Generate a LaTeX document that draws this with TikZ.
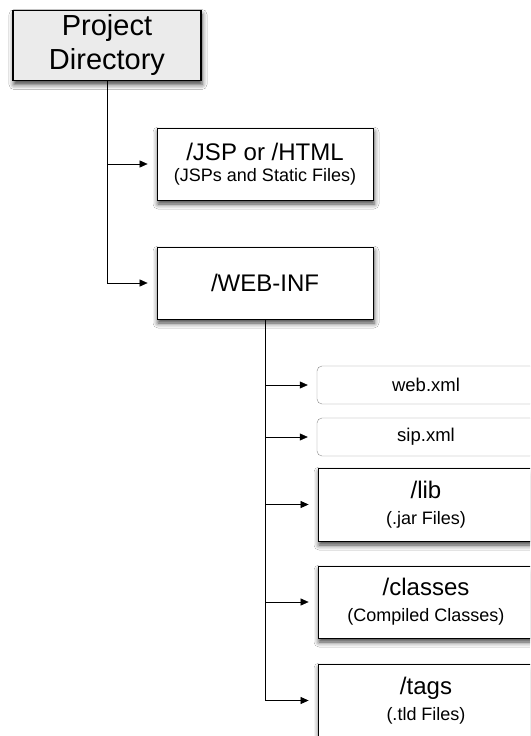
\documentclass[tikz,border=0pt]{standalone}
\usepackage{fontspec}
\setmainfont{Liberation Sans}
\usetikzlibrary{arrows.meta,shadows.blur}
\definecolor{rootfill}{rgb}{0.92,0.92,0.92}
\definecolor{filerim}{rgb}{0.55,0.55,0.55}
\newcommand{\dirnote}[1]{{\fontsize{18}{20}\selectfont #1}}

\begin{document}
\begin{tikzpicture}[x=1pt,y=-1pt,
    folder/.style={draw,thick,fill=white,inner sep=0pt,align=center,
      minimum width=216pt,minimum height=72pt,font=\fontsize{24}{26}\selectfont,
      blur shadow={shadow xshift=1pt,shadow yshift=-4pt,shadow blur radius=5pt,shadow opacity=75}},
    xmlfile/.style={draw=filerim,fill=white,rounded corners=5pt,inner sep=0pt,
      minimum width=218pt,minimum height=38pt,font=\fontsize{18.5}{21}\selectfont},
    branch/.style={-{Triangle[length=8pt,width=7pt]},semithick,shorten >=9pt}]
  \clip (0,0) rectangle (530,736);
  \fill[white] (0,0) rectangle (530,736);
  %%
  \node (ProjectDirectory) at (107,45.5) [folder,line width=1.8pt,fill=rootfill,minimum width=188pt,minimum height=70pt,
    font=\fontsize{29}{34}\selectfont] {Project\\Directory};
  \node (JSP) at (265,164) [folder] {/JSP or /HTML\\[-5pt]\dirnote{(JSPs and Static Files)}};
  \node (WebInf) at (265,283) [folder] {/WEB-INF};
  \node (WebXml) at (426,385) [xmlfile] {web.xml};
  \node (SipXml) at (426,437) [xmlfile] {sip.xml};
  \node (Lib) at (426,504.5) [folder,minimum height=73pt] {/lib\\\dirnote{(.jar Files)}};
  \node (Classes) at (426,602) [folder] {/classes\\\dirnote{(Compiled Classes)}};
  \node (Tags) at (426,700.5) [folder,minimum height=73pt] {/tags\\\dirnote{(.tld Files)}};
  %
  \draw [branch] (ProjectDirectory) |- (JSP);
  \draw [branch] (ProjectDirectory) |- (WebInf);
  \draw [branch] (WebInf) |- (WebXml);
  \draw [branch] (WebInf) |- (SipXml);
  \draw [branch] (WebInf) |- (Lib);
  \draw [branch] (WebInf) |- (Classes);
  \draw [branch] (WebInf) |- (Tags);
  %
\end{tikzpicture}
\end{document}
